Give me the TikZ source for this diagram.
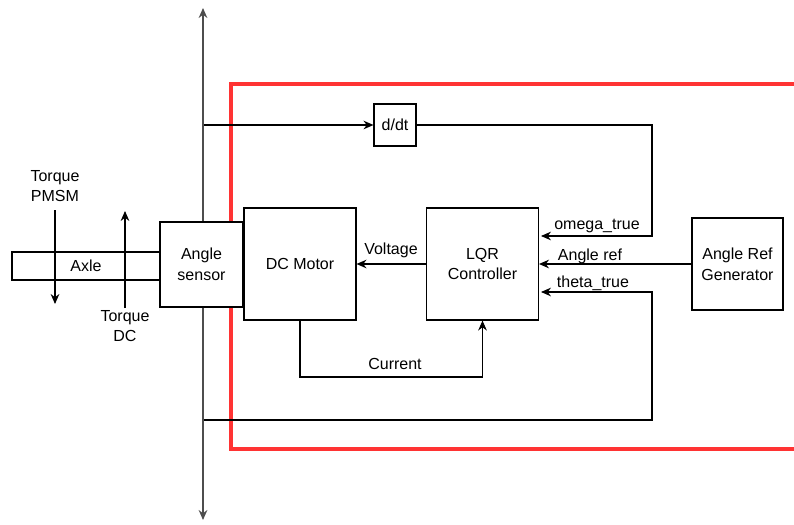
\documentclass[tikz,border=0pt]{standalone}
\usepackage{fontspec}
\setmainfont{Liberation Sans}
\usetikzlibrary{arrows.meta,positioning}

\definecolor{frame}{HTML}{FF3333}
\definecolor{shaft}{HTML}{4D4D4D}

\begin{document}
\begin{tikzpicture}[x=0.75pt,y=-0.75pt,>={Stealth[length=7.5pt,width=6.5pt]},
    font=\fontsize{12}{15.5}\selectfont]
    \tikzset{blk/.style={draw,fill=white,line width=0.8pt,inner sep=0pt,align=center},
      wire/.style={line width=0.8pt}}
    \useasboundingbox (0,0) rectangle (794,525);

    % red frame, open to the right
    \draw[frame,line width=2.6pt] (794,84) -- (231,84) -- (231,449) -- (794,449);

    \coordinate (tapw) at (203,125);
    \coordinate (tapt) at (203,420);

    \node[blk,minimum width=31.5pt,minimum height=31.5pt] (ddt) at (395,125) {d/dt};
    \draw[wire,->] (tapw) -- (ddt);
    \draw[wire,->] (ddt.east) -- (652,125) -- (652,236) -- (541,236);
    \draw[wire,->] (tapt) -- (652,420) -- (652,292) -- (541,292);

    \node[blk,minimum width=111pt,minimum height=21pt] (axle) at (86,266) {Axle};
    \node[blk,minimum width=62.25pt,minimum height=63.75pt] (sensor) at (201.5,264.5) {Angle\\sensor};
    \draw[shaft,line width=1.2pt,->] (sensor.north -| tapw) -- (203,8);
    \draw[shaft,line width=1.2pt,->] (sensor.south -| tapw) -- (203,520);
    \node[blk,minimum width=84pt,minimum height=84pt] (motor) at (300,264) {DC Motor};
    \node[blk,minimum width=84pt,minimum height=84pt] (lqr) at (482.5,264) {LQR\\Controller};
    \node[blk,minimum width=68.25pt,minimum height=69pt] (gen) at (737.5,264) {Angle Ref\\Generator};

    \draw[wire,->] (lqr) -- (motor);
    \draw[wire,->] (gen) -- (lqr);
    \draw[wire,->] (motor.south) -- (300,377) -| (lqr.south);

    % torques on the axle
    \node[align=center] (tpmsm) at (55,186) {Torque\\PMSM};
    \node[align=center] (tdc) at (125,326) {Torque\\DC};
    \draw[wire,->] (55,210) -- (55,304);
    \draw[wire,->] (125,308) -- (125,211);

    \node (lvolt) at (391,250) {Voltage};
    \node (lomega) at (597,226) {omega\_true};
    \node (lref) at (590,256) {Angle ref};
    \node (ltheta) at (593,283) {theta\_true};
    \node (lcur) at (395,364) {Current};
\end{tikzpicture}
\end{document}
